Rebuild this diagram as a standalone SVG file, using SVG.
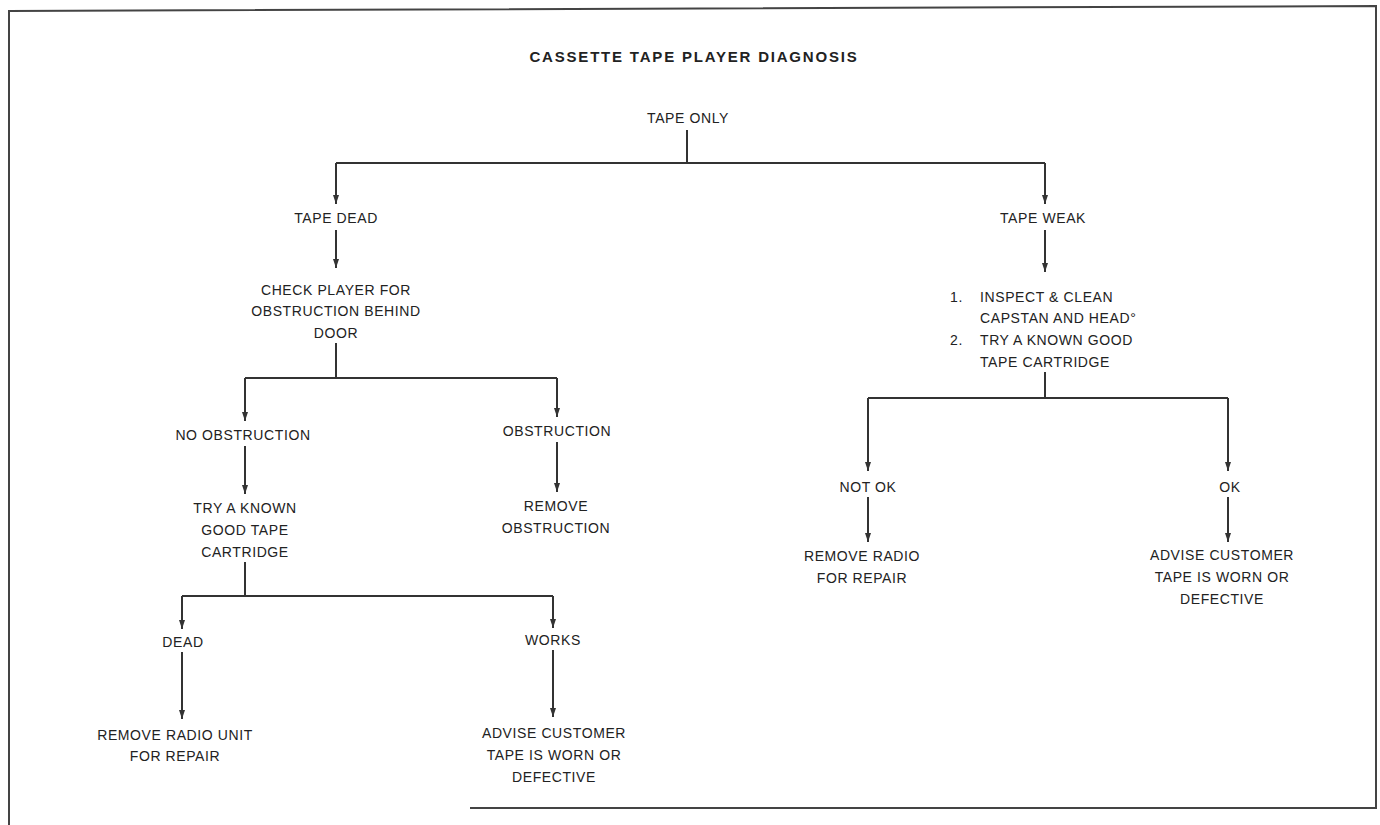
<svg xmlns="http://www.w3.org/2000/svg" width="1380" height="825" viewBox="0 0 1380 825">
<style>
.t{font-family:"Liberation Sans",Arial,sans-serif;font-size:14px;fill:#222;text-anchor:middle;letter-spacing:0.6px}
.l{text-anchor:start}
.title{font-family:"Liberation Sans",Arial,sans-serif;font-size:15px;font-weight:bold;fill:#222;text-anchor:middle;letter-spacing:1.8px}
.c{fill:none;stroke:#333;stroke-width:2}
.b{fill:none;stroke:#444;stroke-width:2}
</style>
<defs>
<marker id="ad" markerUnits="userSpaceOnUse" markerWidth="9" markerHeight="14" refX="12" refY="4" orient="auto" viewBox="0 0 12 8">
<path d="M0,0 L12,4 L0,8 Z" fill="#333"/>
</marker>
</defs>
<rect width="1380" height="825" fill="#fff"/>
<g id="frame">
<polyline class="b" points="9,825 9,11 1376,6 1376,808 470,808"/>
</g>
<g id="title"><text class="title" x="694" y="62">CASSETTE TAPE PLAYER DIAGNOSIS</text></g>
<g id="connectors">
<path class="c" d="M687,130 V163 M336,163 H1045"/>
<path class="c" d="M336,163 V204" marker-end="url(#ad)"/>
<path class="c" d="M1045,163 V204" marker-end="url(#ad)"/>
<path class="c" d="M336,230 V268" marker-end="url(#ad)"/>
<path class="c" d="M336,343 V378 M245,378 H557"/>
<path class="c" d="M245,378 V421" marker-end="url(#ad)"/>
<path class="c" d="M557,378 V417" marker-end="url(#ad)"/>
<path class="c" d="M245,446 V494" marker-end="url(#ad)"/>
<path class="c" d="M557,442 V492" marker-end="url(#ad)"/>
<path class="c" d="M245,562 V596 M182,596 H553"/>
<path class="c" d="M182,596 V629" marker-end="url(#ad)"/>
<path class="c" d="M553,596 V628" marker-end="url(#ad)"/>
<path class="c" d="M182,652 V719" marker-end="url(#ad)"/>
<path class="c" d="M553,650 V717" marker-end="url(#ad)"/>
<path class="c" d="M1045,230 V272" marker-end="url(#ad)"/>
<path class="c" d="M1045,372 V398 M868,398 H1228"/>
<path class="c" d="M868,398 V471" marker-end="url(#ad)"/>
<path class="c" d="M1228,398 V471" marker-end="url(#ad)"/>
<path class="c" d="M868,497 V542" marker-end="url(#ad)"/>
<path class="c" d="M1228,497 V542" marker-end="url(#ad)"/>
</g>
<g id="n-tape-only"><text class="t" x="688" y="123">TAPE ONLY</text></g>
<g id="n-tape-dead"><text class="t" x="336" y="223">TAPE DEAD</text></g>
<g id="n-check"><text class="t" x="336" y="295">CHECK PLAYER FOR</text><text class="t" x="336" y="316">OBSTRUCTION BEHIND</text><text class="t" x="336" y="338">DOOR</text></g>
<g id="n-no-obstruction"><text class="t" x="243" y="440">NO OBSTRUCTION</text></g>
<g id="n-obstruction"><text class="t" x="557" y="436">OBSTRUCTION</text></g>
<g id="n-remove-obstruction"><text class="t" x="556" y="511">REMOVE</text><text class="t" x="556" y="533">OBSTRUCTION</text></g>
<g id="n-try"><text class="t" x="245" y="513">TRY A KNOWN</text><text class="t" x="245" y="535">GOOD TAPE</text><text class="t" x="245" y="557">CARTRIDGE</text></g>
<g id="n-dead"><text class="t" x="183" y="647">DEAD</text></g>
<g id="n-works"><text class="t" x="553" y="645">WORKS</text></g>
<g id="n-remove-unit"><text class="t" x="175" y="740">REMOVE RADIO UNIT</text><text class="t" x="175" y="761">FOR REPAIR</text></g>
<g id="n-advise-1"><text class="t" x="554" y="738">ADVISE CUSTOMER</text><text class="t" x="554" y="760">TAPE IS WORN OR</text><text class="t" x="554" y="782">DEFECTIVE</text></g>
<g id="n-tape-weak"><text class="t" x="1043" y="223">TAPE WEAK</text></g>
<g id="n-inspect"><text class="t l" x="950" y="302">1.</text><text class="t l" x="980" y="302">INSPECT &amp; CLEAN</text><text class="t l" x="980" y="323">CAPSTAN AND HEAD°</text><text class="t l" x="950" y="345">2.</text><text class="t l" x="980" y="345">TRY A KNOWN GOOD</text><text class="t l" x="980" y="367">TAPE CARTRIDGE</text></g>
<g id="n-not-ok"><text class="t" x="868" y="492">NOT OK</text></g>
<g id="n-ok"><text class="t" x="1230" y="492">OK</text></g>
<g id="n-remove-radio"><text class="t" x="862" y="561">REMOVE RADIO</text><text class="t" x="862" y="583">FOR REPAIR</text></g>
<g id="n-advise-2"><text class="t" x="1222" y="560">ADVISE CUSTOMER</text><text class="t" x="1222" y="582">TAPE IS WORN OR</text><text class="t" x="1222" y="604">DEFECTIVE</text></g>
</svg>
